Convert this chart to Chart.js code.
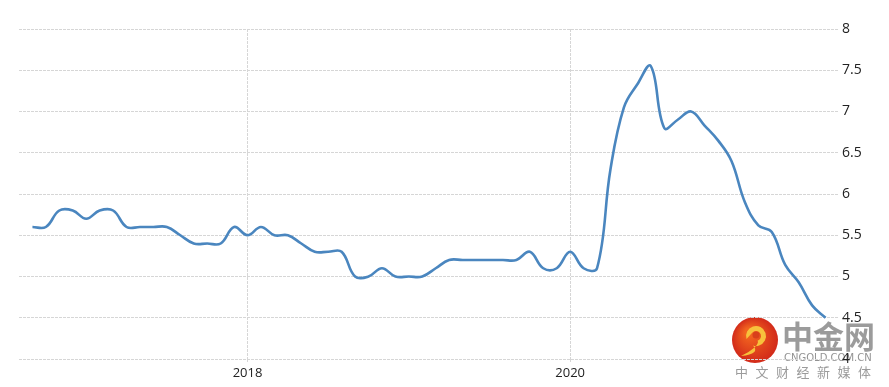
<!DOCTYPE html>
<html>
<head>
<meta charset="utf-8">
<script src="https://cdn.jsdelivr.net/npm/chart.js@4"></script>
<style>
  html, body { margin: 0; padding: 0; background: #fff; }
  #wrap { width: 889px; height: 387px; position: relative; }
</style>
</head>
<body>
<div id="wrap"><canvas id="c" width="889" height="387"></canvas></div>
<script>
// Monthly categories (Sep 2016 .. Aug 2021)
const months = [
  "2016-09","2016-10","2016-11","2016-12",
  "2017-01","2017-02","2017-03","2017-04","2017-05","2017-06","2017-07","2017-08","2017-09","2017-10","2017-11","2017-12",
  "2018-01","2018-02","2018-03","2018-04","2018-05","2018-06","2018-07","2018-08","2018-09","2018-10","2018-11","2018-12",
  "2019-01","2019-02","2019-03","2019-04","2019-05","2019-06","2019-07","2019-08","2019-09","2019-10","2019-11","2019-12",
  "2020-01","2020-02","2020-03","2020-04","2020-05","2020-06","2020-07","2020-08","2020-09","2020-10","2020-11","2020-12",
  "2021-01","2021-02","2021-03","2021-04","2021-05","2021-06","2021-07","2021-08"
];
const values = [
  5.6, 5.6, 5.8, 5.8,
  5.7, 5.8, 5.8, 5.6, 5.6, 5.6, 5.6, 5.5, 5.4, 5.4, 5.4, 5.6,
  5.5, 5.6, 5.5, 5.5, 5.4, 5.3, 5.3, 5.3, 5.0, 5.0, 5.1, 5.0,
  5.0, 5.0, 5.1, 5.2, 5.2, 5.2, 5.2, 5.2, 5.2, 5.3, 5.1, 5.1,
  5.3, 5.1, 5.1, 6.3, 7.05, 7.33, 7.55, 6.8, 6.9, 7.0, 6.83, 6.65,
  6.4, 5.9, 5.62, 5.54, 5.14, 4.93, 4.65, 4.5
];
const xTickMonths = ["2018-01", "2020-01"];
const xTickLabels = ["2018", "2020"];
const yTicks = [4, 4.5, 5, 5.5, 6, 6.5, 7, 7.5, 8];

const points = values.map((v, i) => ({ x: i, y: v }));
const xTickValues = xTickMonths.map(m => months.indexOf(m));

const watermark = {
  id: 'watermark',
  beforeDraw(chart) {
    const ctx = chart.ctx;
    ctx.save();
    // logo circle
    const cx = 755, cy = 340, r = 23;
    const g = ctx.createRadialGradient(cx - 6, cy - 8, 4, cx, cy, r);
    g.addColorStop(0, '#f2641f');
    g.addColorStop(1, '#d22a1a');
    ctx.fillStyle = g;
    ctx.beginPath(); ctx.arc(cx, cy, r, 0, Math.PI * 2); ctx.fill();
    // swirl
    ctx.fillStyle = '#f7c23c';
    ctx.beginPath();
    ctx.arc(cx + 1, cy - 4, 10, Math.PI * 0.9, Math.PI * 2.6);
    ctx.quadraticCurveTo(cx + 6, cy + 14, cx - 14, cy + 16);
    ctx.quadraticCurveTo(cx + 2, cy + 8, cx + 3, cy + 2);
    ctx.arc(cx + 1, cy - 4, 5, Math.PI * 0.4, Math.PI * 1.2, true);
    ctx.closePath();
    ctx.fill();
    ctx.fillStyle = '#d8401b';
    ctx.beginPath(); ctx.arc(cx + 1, cy - 5, 3.5, 0, Math.PI * 2); ctx.fill();
    // texts
    ctx.fillStyle = 'rgba(150,150,150,0.95)';
    ctx.textBaseline = 'middle';
    ctx.textAlign = 'left';
    ctx.font = 'bold 31px "Noto Sans CJK SC"';
    ctx.fillText('中金网', 782, 336);
    ctx.font = '10px "DejaVu Sans"';
    ctx.fillStyle = 'rgba(140,140,140,0.95)';
    ctx.fillText('CNGOLD.COM.CN', 784, 358);
    ctx.font = '13px "Noto Sans CJK SC"';
    ctx.fillStyle = 'rgba(150,150,150,0.95)';
    const chars = '中文财经新媒体'.split('');
    chars.forEach((ch, i) => ctx.fillText(ch, 735 + i * 20.5, 372));
    ctx.restore();
  }
};

new Chart(document.getElementById('c'), {
  type: 'line',
  data: {
    datasets: [{
      data: points,
      borderColor: '#4a86bf',
      borderWidth: 2.6,
      pointRadius: 0,
      tension: 0.4,
      fill: false
    }]
  },
  options: {
    responsive: false,
    animation: false,
    events: [],
    layout: { padding: { left: 19, top: 29, right: 0, bottom: 0 } },
    plugins: { legend: { display: false }, tooltip: { enabled: false } },
    scales: {
      x: {
        type: 'linear',
        min: -1,
        max: 60,
        afterBuildTicks(scale) { scale.ticks = xTickValues.map(v => ({ value: v })); },
        afterFit(scale) { scale.height = 28; },
        ticks: {
          autoSkip: false,
          maxRotation: 0,
          padding: 3,
          color: '#222',
          font: { family: 'Open Sans', size: 13 },
          callback(v) { const k = xTickValues.indexOf(v); return k >= 0 ? xTickLabels[k] : ''; }
        },
        grid: { color: '#d6d6d6', lineWidth: 1, tickLength: 3, drawTicks: true },
        border: { display: false, dash: [3, 1] }
      },
      y: {
        position: 'right',
        min: 4,
        max: 8,
        afterBuildTicks(scale) { scale.ticks = yTicks.map(v => ({ value: v })); },
        afterFit(scale) { scale.width = 50; },
        ticks: {
          padding: 3,
          color: '#222',
          font: { family: 'Open Sans', size: 14 },
          crossAlign: 'near',
          callback(v) { return String(v); }
        },
        grid: { color: '#d6d6d6', lineWidth: 1, drawTicks: false },
        border: { display: false, dash: [3, 1] }
      }
    }
  },
  plugins: [watermark]
});
</script>
</body>
</html>
